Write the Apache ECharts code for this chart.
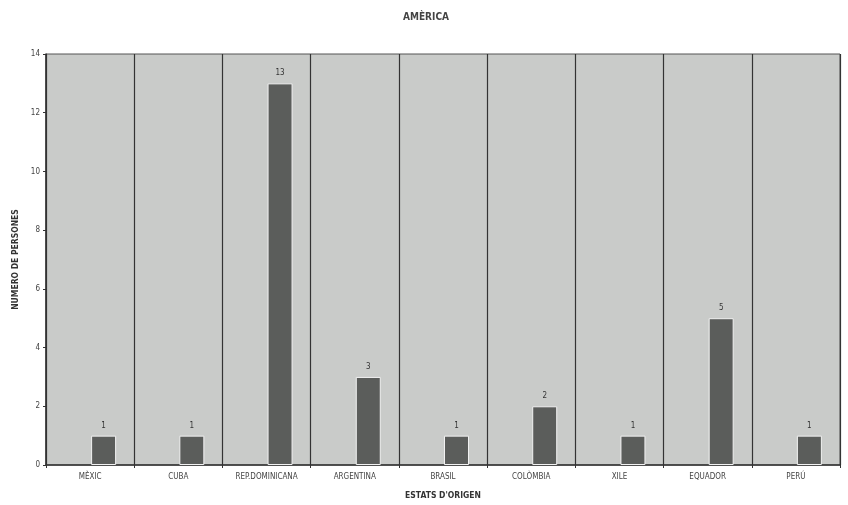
<!DOCTYPE html>
<html><head><meta charset="utf-8">
<script src="https://cdn.jsdelivr.net/npm/echarts@6/dist/echarts.min.js"></script>
<style>html,body{margin:0;padding:0;background:#fff}#c{width:848px;height:505px}</style>
</head><body><div id="c"></div>
<script>
const categories = ['MÈXIC','CUBA','REP.DOMINICANA','ARGENTINA','BRASIL','COLÒMBIA','XILE','EQUADOR','PERÚ'];
const persons = [1,1,13,3,1,2,1,5,1];
const yTicks = {min:0, max:14, interval:2};
const titleText = 'AMÈRICA';
const xName = "ESTATS D'ORIGEN";
const yName = 'NUMERO DE PERSONES';

const font = 'DejaVu Sans Condensed';
const chart = echarts.init(document.getElementById('c'), null, {renderer:'canvas'});
chart.setOption({
  animation:false,
  backgroundColor:'#fff',
  title:{text:titleText,left:421,top:7,textAlign:'center',textStyle:{fontFamily:font,fontSize:10,fontWeight:'bold',color:'#444'}},
  grid:{left:46,right:8,top:54,bottom:40,show:true,backgroundColor:'#c9cbc9',borderColor:'#555',borderWidth:1},
  xAxis:{type:'category',data:categories,boundaryGap:true,
    name:xName,nameLocation:'middle',nameGap:26,
    nameTextStyle:{fontFamily:font,fontSize:8.5,fontWeight:'bold',color:'#333'},
    axisLine:{lineStyle:{color:'#333',width:1.5}},
    axisTick:{show:true,alignWithLabel:false,length:3,lineStyle:{color:'#333'}},
    axisLabel:{fontFamily:font,fontSize:8,color:'#444',margin:8},
    splitLine:{show:true,lineStyle:{color:'#333',width:1.2}}},
  yAxis:{type:'value',min:yTicks.min,max:yTicks.max,interval:yTicks.interval,
    name:yName,nameLocation:'middle',nameGap:26,nameRotate:90,
    nameTextStyle:{fontFamily:font,fontSize:8.5,fontWeight:'bold',color:'#333'},
    axisLine:{show:true,lineStyle:{color:'#333',width:1.5}},
    axisTick:{show:true,length:3,lineStyle:{color:'#333'}},
    axisLabel:{fontFamily:font,fontSize:8,color:'#444',margin:6},
    splitLine:{show:false}},
  series:[
    {type:'bar',data:persons.map(()=>null),barWidth:25,barGap:'8%',silent:true},
    {type:'bar',data:persons,barWidth:25,barGap:'8%',
      itemStyle:{color:'#5b5d5b',borderColor:'#f2f2f2',borderWidth:1},
      label:{show:true,position:'top',distance:6,fontFamily:font,fontSize:8,color:'#333'}}
  ]
});
</script></body></html>
